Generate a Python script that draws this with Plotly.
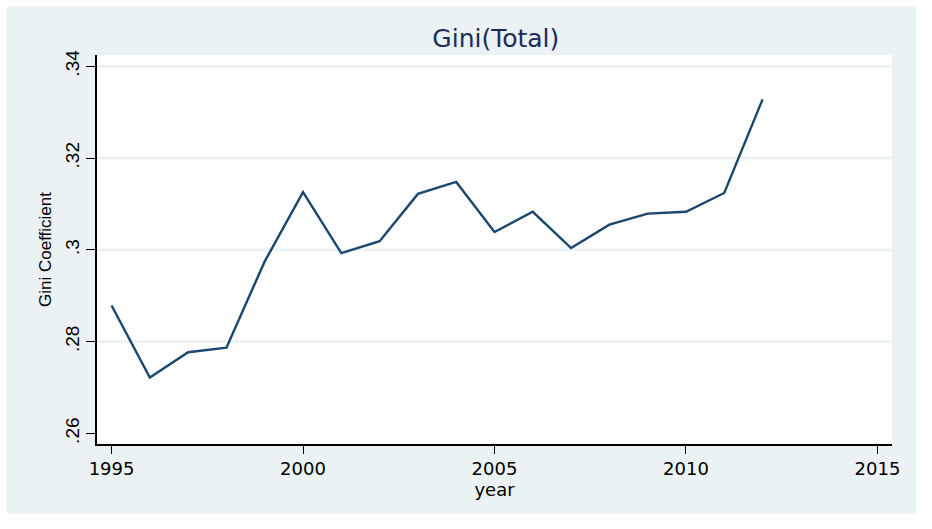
import plotly.graph_objects as go

years = list(range(1995, 2013))
gini = [0.2879, 0.2722, 0.2777, 0.2787, 0.2975, 0.3126, 0.2993, 0.3019, 0.3122,
        0.3148, 0.3039, 0.3083, 0.3004, 0.3055, 0.3079, 0.3083, 0.3124, 0.3328]

x_ticks = [1995, 2000, 2005, 2010, 2015]
y_ticks = [0.26, 0.28, 0.30, 0.32, 0.34]
y_tick_text = [".26", ".28", ".3", ".32", ".34"]
grid_vals = [0.28, 0.30, 0.32, 0.34]

PANEL = "#EAF2F3"
GRID = "#EAF2F3"
LINE = "#1a476f"

fig = go.Figure()
fig.add_trace(go.Scatter(x=years, y=gini, mode="lines",
                         line=dict(color=LINE, width=2.4), showlegend=False))

# outer light panel and white plot region
fig.add_shape(type="rect", xref="paper", yref="paper", x0=-0.1132, x1=1.0302,
              y0=-0.18, y1=1.126, fillcolor=PANEL, line=dict(width=0), layer="below")
fig.add_shape(type="rect", xref="paper", yref="paper", x0=0, x1=1, y0=0, y1=1,
              fillcolor="white", line=dict(width=0), layer="below")
for v in grid_vals:
    fig.add_shape(type="line", xref="paper", yref="y", x0=0, x1=1, y0=v, y1=v,
                  line=dict(color=GRID, width=2.7), layer="below")

fig.update_layout(
    width=932, height=529,
    margin=dict(l=97, r=40, t=55, b=85),
    paper_bgcolor="white", plot_bgcolor="white",
    title=dict(text="Gini(Total)", x=0.532, xanchor="center", xref="container",
               y=1 - 38.5 / 529, yanchor="middle", yref="container",
               font=dict(family="DejaVu Sans", size=25, color="#1c2c5b")),
    xaxis=dict(range=[1994.62, 2015.38], tickvals=x_ticks, ticks="outside",
               ticklen=8, tickwidth=1, tickcolor="black",
               showline=True, linecolor="black", linewidth=1.5, showgrid=False,
               zeroline=False,
               tickfont=dict(family="DejaVu Sans", size=18, color="black"),
               title=dict(text="year", standoff=0,
                          font=dict(family="DejaVu Sans", size=18, color="black"))),
    yaxis=dict(range=[0.25772, 0.34246], tickvals=y_ticks, ticktext=y_tick_text,
               tickangle=-90, ticks="outside", ticklen=9, tickwidth=1,
               tickcolor="black", showline=True, linecolor="black", linewidth=1.5,
               showgrid=False, zeroline=False,
               tickfont=dict(family="Liberation Sans, Arial", size=19, color="black"),
               title=dict(text="Gini Coefficient", standoff=6,
                          font=dict(family="Liberation Sans, Arial", size=17,
                                    color="black"))),
)

fig.write_html("out.html")
